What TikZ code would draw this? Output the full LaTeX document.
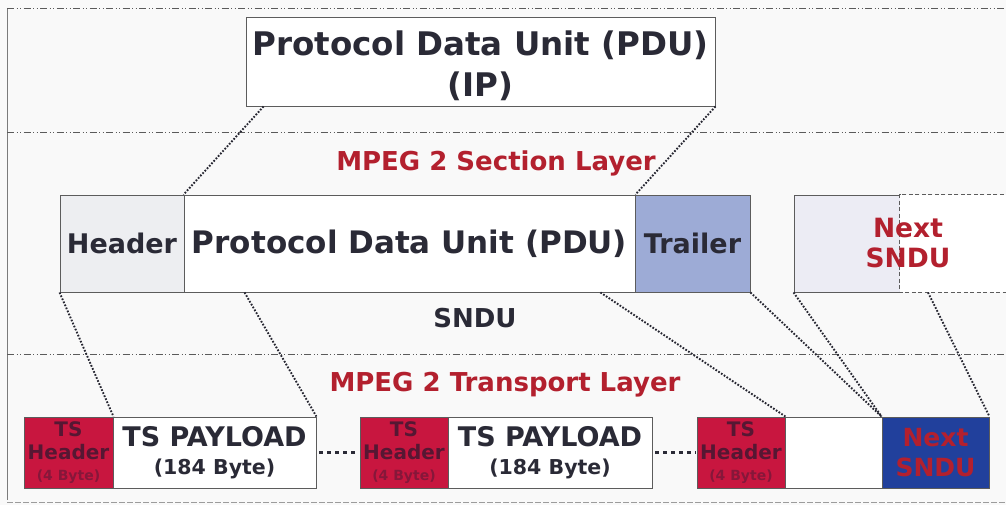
\documentclass[tikz,border=0pt]{standalone}
\usepackage{fontspec}
\setmainfont{DejaVu Sans}
\usetikzlibrary{calc}
\definecolor{ink}{HTML}{2A2A36}
\definecolor{layerred}{HTML}{B3202E}
\definecolor{rule}{HTML}{5A5A5A}
\definecolor{boxline}{HTML}{5C5C5C}
\definecolor{hdrgray}{HTML}{EDEEF1}
\definecolor{trlblue}{HTML}{9DABD6}
\definecolor{nextpale}{HTML}{ECECF4}
\definecolor{tsred}{HTML}{C8163F}
\definecolor{tsink}{HTML}{561733}
\definecolor{tssmall}{HTML}{86173A}
\definecolor{sndublue}{HTML}{21409C}
\definecolor{paper}{HTML}{F9F9F9}
\tikzset{
  field/.style={draw=boxline, line width=0.9pt, rectangle, inner sep=0pt, align=center, text=ink, font=\bfseries},
  tsfield/.style={field, fill=tsred, text=tsink, font=\bfseries\fontsize{20}{23}\selectfont},
  layerlabel/.style={text=layerred, font=\bfseries\fontsize{26}{28}\selectfont},
  maplink/.style={draw=ink!90!black, line width=1.9pt, dash pattern=on 1.7pt off 1.6pt},
  layerrule/.style={draw=rule, line width=0.8pt, dash pattern=on 7pt off 2.5pt on 1pt off 2.5pt on 1pt off 2.5pt},
  gapdots/.style={draw=ink, line width=3.2pt, dash pattern=on 3.2pt off 4.8pt}
}
\newcommand{\tslabel}{TS\\Header\\[-2pt]{\color{tssmall}\fontsize{14}{15}\selectfont(4 Byte)}}
\begin{document}
\begin{tikzpicture}[x=1pt,y=-1pt]
\useasboundingbox[fill=paper] (0,0) rectangle (1006,505);

% frame and layer separators
\draw[draw=rule!80, line width=0.8pt] (7,8) -- (7,500);
\draw[layerrule] (7,8) -- (1006,8);
\draw[layerrule] (7,132) -- (1006,132);
\draw[layerrule] (7,354) -- (1006,354);
\draw[draw=rule!60, line width=0.8pt, dash pattern=on 6pt off 2pt] (7,502) -- (1006,502);

% IP layer
\node[field, fill=white, minimum width=469pt, minimum height=89pt] (toppdu) at (480.5,61.5) {};
\node[text=ink, align=center, font=\bfseries\fontsize{32.5}{41}\selectfont] (toppdutxt) at (480.5,65.5)
      {Protocol Data Unit (PDU)\\(IP)};

% section layer
\node[layerlabel] (seclbl) at (496,163) {MPEG 2 Section Layer};
\node[field, fill=hdrgray, minimum width=124pt, minimum height=97pt,
      font=\bfseries\fontsize{27}{30}\selectfont] (hdr) at (122,243.5) {Header};
\node[field, fill=white, minimum width=451pt, minimum height=97pt,
      font=\bfseries\fontsize{31}{34}\selectfont] (pdu) at (409.5,243.5) {Protocol Data Unit (PDU)};
\node[field, fill=trlblue, minimum width=115pt, minimum height=97pt,
      font=\bfseries\fontsize{27}{30}\selectfont] (trl) at (692.5,243.5) {Trailer};
\node[field, fill=nextpale, minimum width=106pt, minimum height=97pt] (nxt) at (847,243.5) {};
\node[field, draw=none, fill=white, minimum width=110pt, minimum height=97pt] (nxtd) at (955,243.5) {};
\draw[draw=boxline, line width=0.9pt, dash pattern=on 4pt off 2.5pt]
  (nxtd.north east) -- (nxtd.north west) -- (nxtd.south west) -- (nxtd.south east);
\node[text=layerred, align=center, font=\bfseries\fontsize{26.5}{30}\selectfont] (nxtlbl) at (908,243.5) {Next\\SNDU};
\node[text=ink, font=\bfseries\fontsize{26}{28}\selectfont] (sndulbl) at (475,318) {SNDU};

% transport layer
\node[layerlabel] (trlbl) at (505,385) {MPEG 2 Transport Layer};
\node[tsfield, minimum width=89pt, minimum height=71pt] (tsh1) at (68.5,452.5) {\tslabel};
\node[field, fill=white, minimum width=203pt, minimum height=71pt,
      font=\bfseries\fontsize{27}{28}\selectfont] (pay1) at (214.5,452.5)
  {TS PAYLOAD\\{\fontsize{20.5}{22}\selectfont(184 Byte)}};
\node[tsfield, minimum width=88pt, minimum height=71pt] (tsh2) at (404,452.5) {\tslabel};
\node[field, fill=white, minimum width=204pt, minimum height=71pt,
      font=\bfseries\fontsize{27}{28}\selectfont] (pay2) at (550,452.5)
  {TS PAYLOAD\\{\fontsize{20.5}{22}\selectfont(184 Byte)}};
\node[tsfield, minimum width=88pt, minimum height=71pt] (tsh3) at (741,452.5) {\tslabel};
\node[field, fill=white, minimum width=97pt, minimum height=71pt] (emp) at (833.5,452.5) {};
\node[field, fill=sndublue, text=layerred, minimum width=107pt, minimum height=71pt,
      font=\bfseries\fontsize{25}{30}\selectfont] (nsn) at (935.5,452.5) {Next\\SNDU};

% gaps between transport packets
\draw[gapdots] ([xshift=3pt]pay1.east) -- ([xshift=-1pt]tsh2.west);
\draw[gapdots] ([xshift=3pt]pay2.east) -- ([xshift=-1pt]tsh3.west);

% mapping from layer to layer
\draw[maplink] ([xshift=18pt]toppdu.south west) -- (pdu.north west);
\draw[maplink] (toppdu.south east) -- (pdu.north east);
\draw[maplink] (hdr.south west) -- (tsh1.north east);
\draw[maplink] ([xshift=61pt]pdu.south west) -- (pay1.north east);
\draw[maplink] ([xshift=-35pt]pdu.south east) -- (tsh3.north east);
\draw[maplink] (trl.south east) -- (nsn.north west);
\draw[maplink] (nxt.south west) -- (nsn.north west);
\draw[maplink] ([xshift=-27pt]nxtd.south) -- (nsn.north east);
\end{tikzpicture}
\end{document}
